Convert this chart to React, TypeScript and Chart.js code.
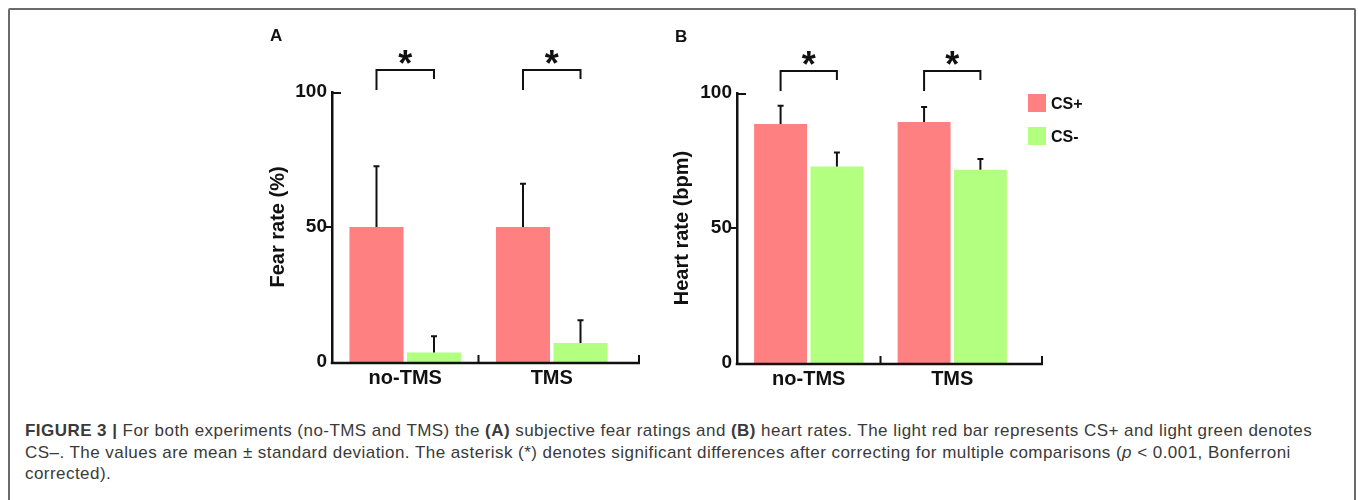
import React, { useEffect, useRef } from "react";
import { Chart, registerables } from "chart.js";

Chart.register(...registerables);

// ---------- data ----------
const categories = ["no-TMS", "TMS"];
const seriesNames = ["CS+", "CS-"];
const fearCSPlus = [50, 50];
const fearCSPlusSD = [22.5, 16];
const fearCSMinus = [3.5, 7];
const fearCSMinusSD = [6, 8.5];
const heartCSPlus = [88.5, 89.3];
const heartCSPlusSD = [6.8, 5.5];
const heartCSMinus = [72.8, 71.6];
const heartCSMinusSD = [5.2, 4];
const yTickValues = [0, 50, 100];
const significance = ["*", "*"];

const RED = "#FF8080";
const GREEN = "#B3FF80";
const INK = "#111111";
const FONT = "'Liberation Sans', Arial, Helvetica, sans-serif";

const figPlugin = {
  id: "figExtras",
  afterDatasetsDraw(chart: any, _args: any, opts: any) {
    const { ctx, chartArea, scales } = chart;
    const xs = scales.x;
    const ys = scales.y;
    const m0 = chart.getDatasetMeta(0);
    const m1 = chart.getDatasetMeta(1);
    ctx.save();
    ctx.strokeStyle = INK;
    ctx.fillStyle = INK;
    ctx.lineCap = "butt";

    // error bars (upper whisker only)
    ctx.lineWidth = 2;
    [m0, m1].forEach((meta: any, i: number) => {
      const vals = chart.data.datasets[i].data;
      const sds = opts.sd[i];
      meta.data.forEach((el: any, j: number) => {
        const yt = ys.getPixelForValue(vals[j] + sds[j]);
        ctx.beginPath();
        ctx.moveTo(el.x, el.y);
        ctx.lineTo(el.x, yt);
        ctx.moveTo(el.x - 3, yt);
        ctx.lineTo(el.x + 3, yt);
        ctx.stroke();
      });
    });

    // x axis with extension and upward ticks
    const y0 = chartArea.bottom + 1;
    const xEnd = chartArea.right + opts.axisExtend;
    ctx.lineWidth = 2.5;
    ctx.beginPath();
    ctx.moveTo(chartArea.left - 1.25, y0);
    ctx.lineTo(xEnd, y0);
    ctx.stroke();
    ctx.lineWidth = 2;
    const xb = xs.getPixelForValue(0.5);
    ctx.beginPath();
    ctx.moveTo(xb, y0);
    ctx.lineTo(xb, y0 - 8);
    ctx.moveTo(xEnd - 1, y0);
    ctx.lineTo(xEnd - 1, y0 - 8);
    ctx.stroke();

    // y-axis tick marks
    const y100 = ys.getPixelForValue(yTickValues[2]);
    const y50 = ys.getPixelForValue(yTickValues[1]);
    ctx.beginPath();
    ctx.moveTo(chartArea.left, y100 + 1);
    ctx.lineTo(chartArea.left + 9, y100 + 1);
    ctx.moveTo(chartArea.left - 6, y50);
    ctx.lineTo(chartArea.left, y50);
    ctx.stroke();

    // significance brackets
    ctx.lineWidth = 2;
    m0.data.forEach((el: any, j: number) => {
      const xl = el.x;
      const xr = m1.data[j].x;
      const top = chartArea.top - 22;
      ctx.beginPath();
      ctx.moveTo(xl, chartArea.top - 2);
      ctx.lineTo(xl, top);
      ctx.lineTo(xr, top);
      ctx.lineTo(xr, chartArea.top - 13);
      ctx.stroke();
      ctx.font = `bold 36px ${FONT}`;
      ctx.textAlign = "center";
      ctx.textBaseline = "alphabetic";
      ctx.fillText(significance[j], (xl + xr) / 2, chartArea.top - 16);
    });

    // panel letter
    ctx.font = `bold 17px ${FONT}`;
    ctx.textAlign = "left";
    ctx.textBaseline = "alphabetic";
    ctx.fillText(opts.panel, chartArea.left - 62, chartArea.top - 51);

    // legend
    if (opts.legend) {
      const lx = chartArea.right + 4;
      seriesNames.forEach((name, i) => {
        const by = chartArea.top + 1 + i * 33;
        ctx.fillStyle = chart.data.datasets[i].backgroundColor;
        ctx.fillRect(lx, by, 18, 18);
        ctx.fillStyle = INK;
        ctx.font = `bold 16px ${FONT}`;
        ctx.fillText(name, lx + 23, by + 15);
      });
    }
    ctx.restore();
  },
};

function makeConfig(
  plus: number[],
  minus: number[],
  sdPlus: number[],
  sdMinus: number[],
  title: string,
  panel: string,
  yWidth: number,
  titlePad: number,
  padTop: number,
  padRight: number,
  xHeight: number,
  legend: boolean,
  axisExtend: number
): any {
  return {
    type: "bar",
    data: {
      labels: categories,
      datasets: [
        { label: seriesNames[0], data: plus, backgroundColor: RED, borderWidth: 0 },
        { label: seriesNames[1], data: minus, backgroundColor: GREEN, borderWidth: 0 },
      ],
    },
    plugins: [figPlugin],
    options: {
      animation: false,
      responsive: false,
      maintainAspectRatio: false,
      events: [],
      layout: { padding: { top: padTop, right: padRight, left: 0, bottom: 0 } },
      datasets: { bar: { categoryPercentage: 0.785, barPercentage: 0.94 } },
      plugins: {
        legend: { display: false },
        tooltip: { enabled: false },
        figExtras: { sd: [sdPlus, sdMinus], panel, legend, axisExtend },
      },
      scales: {
        x: {
          type: "category",
          grid: { display: false, drawTicks: false },
          border: { display: false },
          ticks: { color: INK, font: { family: FONT, size: 20, weight: "bold" }, padding: 4 },
          afterFit: (s: any) => {
            s.height = xHeight;
          },
        },
        y: {
          min: 0,
          max: 100,
          afterBuildTicks: (s: any) => {
            s.ticks = yTickValues.map((v) => ({ value: v }));
          },
          grid: { display: false, drawTicks: false },
          border: { display: true, width: 2.5, color: INK },
          ticks: { color: INK, font: { family: FONT, size: 19, weight: "bold" }, padding: 5 },
          title: {
            display: true,
            text: title,
            color: INK,
            font: { family: FONT, size: 20, weight: "bold" },
            padding: { top: titlePad, bottom: 0 },
          },
          afterFit: (s: any) => {
            s.width = yWidth;
          },
        },
      },
    },
  };
}

function ChartCanvas({ config, left, top, width, height }: any) {
  const ref = useRef<HTMLCanvasElement>(null);
  useEffect(() => {
    const chart = new Chart(ref.current as HTMLCanvasElement, config);
    return () => chart.destroy();
  }, []);
  return (
    <canvas
      ref={ref}
      width={width}
      height={height}
      style={{ position: "absolute", left, top, width, height }}
    />
  );
}

const captionLines = [
  <>
    <b>FIGURE 3 |</b> For both experiments (no-TMS and TMS) the <b>(A)</b> subjective fear ratings and{" "}
    <b>(B)</b> heart rates. The light red bar represents CS+ and light green denotes
  </>,
  <>
    CS–. The values are mean ± standard deviation. The asterisk (*) denotes significant differences after
    correcting for multiple comparisons (<i>p</i> &lt; 0.001, Bonferroni
  </>,
  <>corrected).</>,
];

export default function App() {
  const cfgA = makeConfig(
    fearCSPlus, fearCSMinus, fearCSPlusSD, fearCSMinusSD,
    "Fear rate (%)", "A", 82, 16, 72, 25, 38, false, 15
  );
  const cfgB = makeConfig(
    heartCSPlus, heartCSMinus, heartCSPlusSD, heartCSMinusSD,
    "Heart rate (bpm)", "B", 87, 20, 73, 66, 37, true, 19
  );
  return (
    <div
      style={{
        position: "absolute",
        left: 0,
        top: 0,
        width: 1358,
        height: 500,
        overflow: "hidden",
        background: "#fff",
      }}
    >
      <div
        style={{
          position: "absolute",
          left: 8,
          top: 8,
          width: 1348,
          height: 520,
          border: "2px solid #6a6a6a",
          borderRadius: 2,
          boxSizing: "border-box",
        }}
      />
      <ChartCanvas config={cfgA} left={250} top={20} width={400} height={380} />
      <ChartCanvas config={cfgB} left={650} top={20} width={440} height={380} />
      <div
        style={{
          position: "absolute",
          left: 25,
          top: 420,
          fontFamily: FONT,
          fontSize: 17,
          letterSpacing: "0.45px",
          lineHeight: "21.5px",
          color: "#3a3a3a",
          whiteSpace: "nowrap",
        }}
      >
        {captionLines.map((l, i) => (
          <div key={i}>{l}</div>
        ))}
      </div>
    </div>
  );
}
